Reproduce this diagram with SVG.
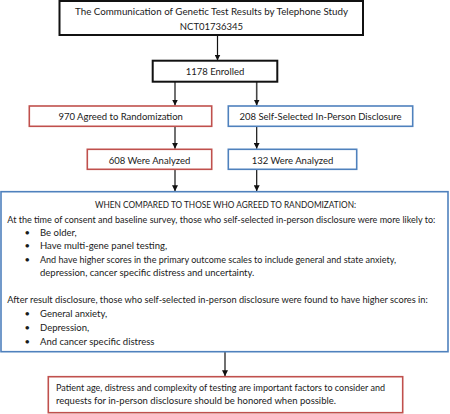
<svg xmlns="http://www.w3.org/2000/svg" width="450" height="414" viewBox="0 0 450 414">
<defs>
<marker id="ah" viewBox="0 0 6 6" refX="6" refY="3" markerWidth="6" markerHeight="6" markerUnits="userSpaceOnUse" orient="auto">
<path d="M0,0 L6,3 L0,6 z" fill="#111"/>
</marker>
<style>
text{font-family:Lato,"Open Sans","Liberation Sans",sans-serif;font-size:9.5px;fill:#1a1a1a}
.c{text-anchor:middle}
.s{font-size:9px}
.k{fill:#fff;stroke:#111;stroke-width:2}
.r{fill:#fff;stroke:#c0504d;stroke-width:1.6}
.b{fill:#fff;stroke:#4f81bd;stroke-width:1.6}
.e{stroke:#111;stroke-width:1.2;fill:none;marker-end:url(#ah)}
</style>
</defs>
<rect width="450" height="414" fill="#fff"/>
<g id="connectors">
<path class="e" d="M217.5,35 V60.5"/>
<path class="e" d="M175,81.7 V105.5"/>
<path class="e" d="M256.7,81.7 V105.5" style="stroke:#444;stroke-width:1.6"/>
<path class="e" d="M175,126.3 V148.8"/>
<path class="e" d="M256.7,126.3 V148.8"/>
<path class="e" d="M175,169.3 V191.2"/>
<path class="e" d="M256.7,169.3 V191.2"/>
<path class="e" d="M225,352 V376.2"/>
</g>
<g id="study">
<rect class="k" x="59.5" y="1" width="303.5" height="34"/>
<text class="c" x="211.5" y="15" textLength="273" lengthAdjust="spacingAndGlyphs">The Communication of Genetic Test Results by Telephone Study</text>
<text class="c" x="211.5" y="30">NCT01736345</text>
</g>
<g id="enrolled">
<rect class="k" x="152.7" y="60.7" width="124.6" height="21"/>
<text class="c" x="215" y="75">1178 Enrolled</text>
</g>
<g id="randomized">
<rect class="r" x="29.3" y="106" width="182.4" height="20.3"/>
<text class="c" x="120.7" y="120">970 Agreed to Randomization</text>
</g>
<g id="selfselected">
<rect class="b" x="228.3" y="106" width="184.4" height="20.3"/>
<text class="c" x="320.5" y="120">208 Self-Selected In-Person Disclosure</text>
</g>
<g id="analyzed608">
<rect class="r" x="87.3" y="149.3" width="124.4" height="20"/>
<text class="c" x="149.5" y="164.3">608 Were Analyzed</text>
</g>
<g id="analyzed132">
<rect class="b" x="228.3" y="149.3" width="128.4" height="20"/>
<text class="c" x="292.5" y="164.3">132 Were Analyzed</text>
</g>
<g id="comparison">
<rect class="b" x="1" y="191.7" width="447" height="160"/>
<text class="c" x="225.5" y="207.5" textLength="261" lengthAdjust="spacingAndGlyphs">WHEN COMPARED TO THOSE WHO AGREED TO RANDOMIZATION:</text>
<text class="s" x="7.3" y="222.5" textLength="428" lengthAdjust="spacingAndGlyphs">At the time of consent and baseline survey, those who self-selected in-person disclosure were more likely to:</text>
<text x="24.5" y="236">•</text><text x="40" y="236">Be older,</text>
<text x="24.5" y="249.3">•</text><text x="40" y="249.3">Have multi-gene panel testing,</text>
<text x="24.5" y="262.6">•</text><text x="40" y="262.6" textLength="356" lengthAdjust="spacingAndGlyphs">And have higher scores in the primary outcome scales to include general and state anxiety,</text>
<text x="40" y="276.3">depression, cancer specific distress and uncertainty.</text>
<text class="s" x="7.3" y="303.3" textLength="420.4" lengthAdjust="spacingAndGlyphs">After result disclosure, those who self-selected in-person disclosure were found to have higher scores in:</text>
<text x="24.5" y="316.6">•</text><text x="40" y="316.6">General anxiety,</text>
<text x="24.5" y="331">•</text><text x="40" y="331">Depression,</text>
<text x="24.5" y="345">•</text><text x="40" y="345">And cancer specific distress</text>
</g>
<g id="conclusion">
<rect class="r" x="48.3" y="376.7" width="354.4" height="36"/>
<text x="56" y="390.6" textLength="329" lengthAdjust="spacingAndGlyphs">Patient age, distress and complexity of testing are important factors to consider and</text>
<text x="56" y="404">requests for in-person disclosure should be honored when possible.</text>
</g>
</svg>
